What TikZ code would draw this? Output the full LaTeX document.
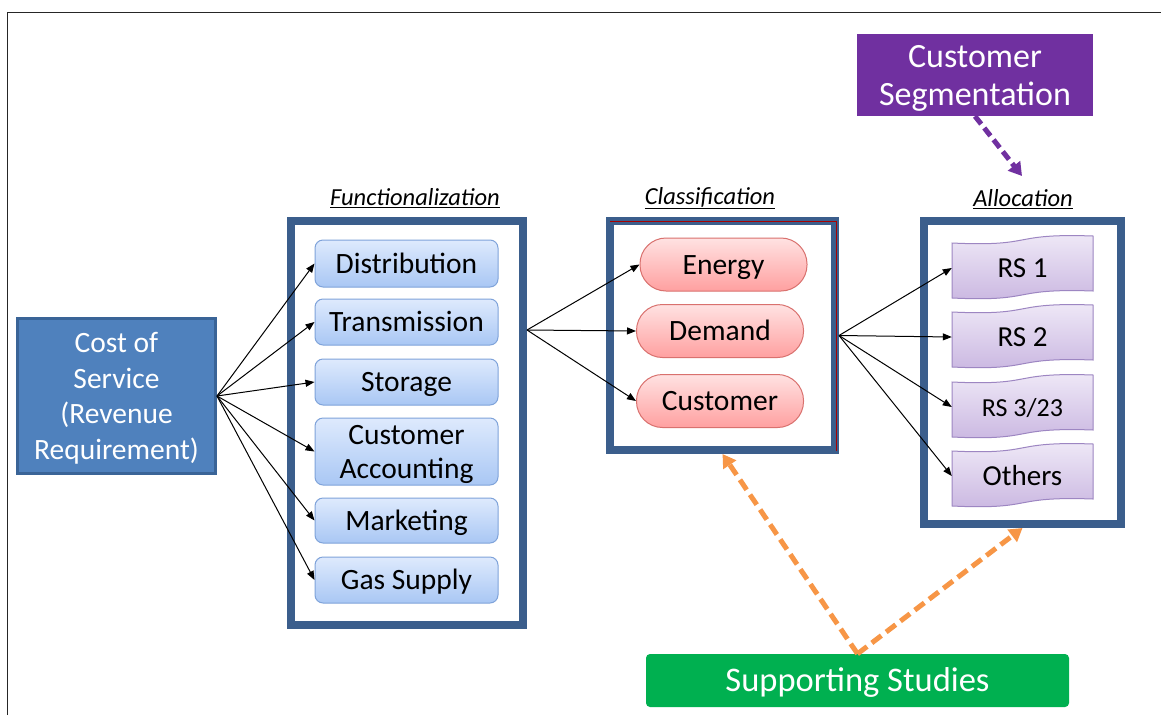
\documentclass[tikz,border=0pt]{standalone}
\usepackage{fontspec}
\setmainfont{Carlito}
\usetikzlibrary{arrows.meta,calc}
\definecolor{frameblue}{HTML}{3B5E8C}
\definecolor{costfill}{HTML}{4F81BD}
\definecolor{costborder}{HTML}{3A6497}
\definecolor{fbtop}{HTML}{DEEAFD}
\definecolor{fbbot}{HTML}{A9C7F4}
\definecolor{fbborder}{HTML}{7FA3DA}
\definecolor{pktop}{HTML}{FFE2E2}
\definecolor{pkbot}{HTML}{FFA0A0}
\definecolor{pkborder}{HTML}{D9716E}
\definecolor{bntop}{HTML}{EFE9F7}
\definecolor{bnbot}{HTML}{CAB7E1}
\definecolor{bnborder}{HTML}{9D86C2}
\definecolor{segpurple}{HTML}{7030A0}
\definecolor{ssgreen}{HTML}{00B050}
\definecolor{ssorange}{HTML}{F79646}
\newcommand\wavebanner[3]{%
  \path[top color=bntop, bottom color=bnbot, draw=bnborder, line width=1pt]
    (952,#2+7) .. controls (1036.6,#2+11) and (1008.4,#2-3) .. (1093,#2)
    -- (1093,#2+55) .. controls (1008.4,#2+52) and (1036.6,#2+66) .. (952,#2+62) -- cycle;
  \node[bannernode] (#1) at (1022.5,#2+32) {#3};}
\begin{document}
\begin{tikzpicture}[x=1pt,y=-1pt,
  oneline/.style={text height=21pt, text depth=2pt},
  frame/.style={draw=frameblue, line width=8pt, fill=white, inner sep=0pt},
  funcbox/.style={draw=fbborder, line width=1pt, rounded corners=8pt, top color=fbtop, bottom color=fbbot,
    minimum width=183pt, inner sep=0pt, align=center, font=\fontsize{29.5}{34}\selectfont},
  pill/.style={draw=pkborder, line width=1pt, rounded corners=26pt, top color=pktop, bottom color=pkbot,
    minimum width=167pt, minimum height=53pt, inner sep=0pt, oneline, font=\fontsize{29.5}{34}\selectfont},
  bannernode/.style={minimum width=141pt, minimum height=60pt, inner sep=0pt, oneline, font=\fontsize{29}{34}\selectfont},
  lbl/.style={inner sep=3pt, font=\fontsize{24.5}{28}\selectfont\itshape},
  conn/.style={-{Triangle[length=9pt,width=7pt]}, line width=1pt, black},
  odash/.style={ssorange, line width=5pt, dash pattern=on 12pt off 6pt, -{Triangle[length=13pt,width=15pt]}},
  pdash/.style={segpurple, line width=5pt, dash pattern=on 10pt off 5pt, -{Triangle[length=13pt,width=15pt]}}
]
\useasboundingbox (0,0) rectangle (1161,715);
\fill[white] (0,0) rectangle (1161,715);
\draw[line width=1pt, black!85] (7.5,715) -- (7.5,12.5) -- (1161,12.5);

% Cost of service
\node[draw=costborder, line width=3pt, fill=costfill, text=white, minimum width=198pt, minimum height=155pt,
  inner sep=0pt, align=center, text depth=0pt, font=\fontsize{29.5}{35.5}\selectfont] (cost) at (116.5,396)
  {Cost of\\Service\\(Revenue\\Requirement)};

% Functionalization
\node[lbl] (funclbl) at (415,198) {\underline{Functionalization}};
\node[frame, minimum width=232pt, minimum height=404pt] (func) at (407,423) {};
\node[funcbox, oneline, minimum height=47pt] (dist) at (406.5,263.5) {Distribution};
\node[funcbox, oneline, minimum height=46pt] (trans) at (406.5,322) {Transmission};
\node[funcbox, oneline, minimum height=46pt] (stor) at (406.5,382) {Storage};
\node[funcbox, text depth=0pt, minimum height=67pt] (custacc) at (406.5,451.5) {Customer\\Accounting};
\node[funcbox, oneline, minimum height=45pt] (mark) at (406.5,520.5) {Marketing};
\node[funcbox, oneline, minimum height=46pt] (gas) at (406.5,580) {Gas Supply};

% Classification
\node[lbl] (classlbl) at (710,198) {\underline{Classification}};
\node[frame, minimum width=225pt, minimum height=229pt] (class) at (722.5,335.5) {};
\draw[red!65!black, line width=0.6pt] (610,221) -- (836,221) -- (836,451);
\node[pill] (energy) at (723.5,264.5) {Energy};
\node[pill] (demand) at (720,331) {Demand};
\node[pill] (cust) at (720,401) {Customer};

% Allocation
\node[lbl] (alloclbl) at (1023,199) {\underline{Allocation}};
\node[frame, minimum width=197pt, minimum height=303pt] (alloc) at (1022.5,372.5) {};
\wavebanner{rs1}{236}{RS 1}
\wavebanner{rs2}{305}{RS 2}
\wavebanner{rs3}{375}{\fontsize{26}{30}\selectfont RS 3/23}
\wavebanner{others}{444}{Others}

% arrows cost -> functions
\foreach \t in {dist,trans,stor,custacc,mark,gas}
  \draw[conn] (cost.east) -- (\t.west);

% arrows functionalization -> classification
\coordinate (fsrc) at (527,330);
\foreach \t in {energy,demand,cust}
  \draw[conn] (fsrc) -- (\t.west);

% arrows classification -> allocation
\foreach \t in {rs1,rs2,rs3,others}
  \draw[conn] (class.east) -- (\t.west);

% Customer segmentation
\node[fill=segpurple, text=white, minimum width=236pt, minimum height=82pt, inner sep=0pt, align=center,
  text depth=0pt, font=\fontsize{34}{38}\selectfont] (seg) at (975,75) {Customer\\Segmentation};
\coordinate (segtip) at (1022,176);
\draw[pdash] (seg.south) -- (segtip);

% Supporting studies
\node[fill=ssgreen, text=white, rounded corners=4pt, minimum width=423pt, minimum height=53pt, inner sep=0pt,
  text height=24pt, text depth=2pt, font=\fontsize{34.5}{40}\selectfont] (ss) at (857.5,680.5) {Supporting Studies};
\draw[odash] (ss.north) -- (class.south);
\draw[odash] (ss.north) -- (alloc.south);
\end{tikzpicture}
\end{document}
